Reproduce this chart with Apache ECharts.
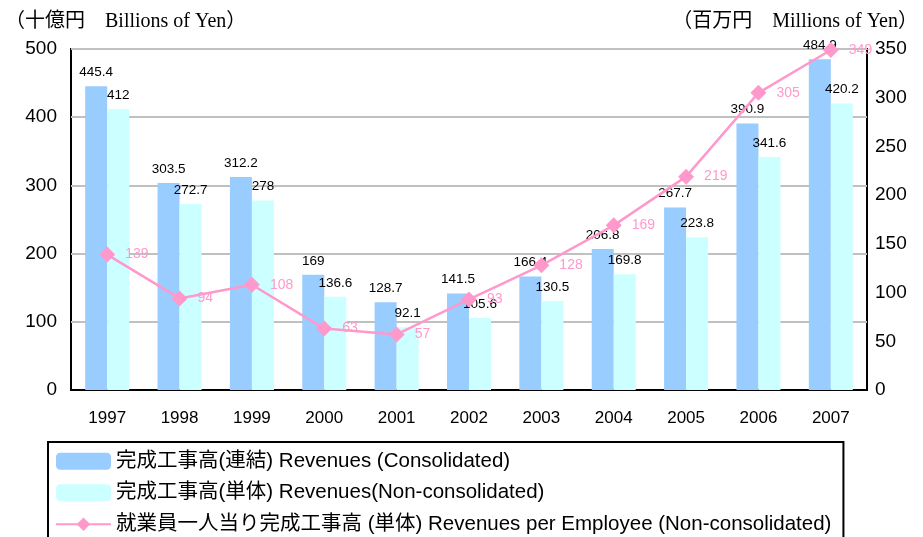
<!DOCTYPE html>
<html>
<head>
<meta charset="utf-8">
<script src="https://cdn.jsdelivr.net/npm/echarts@6/dist/echarts.min.js"></script>
<style>
  html, body { margin: 0; padding: 0; background: #fff; }
  #chart { width: 923px; height: 537px; }
</style>
</head>
<body>
<div id="chart"></div>
<script>
  // 年度
  const years = ['1997', '1998', '1999', '2000', '2001', '2002', '2003', '2004', '2005', '2006', '2007']
  // 完成工事高(連結) 十億円
  const consolidated = [445.4, 303.5, 312.2, 169, 128.7, 141.5, 166.4, 206.8, 267.7, 390.9, 484.9]
  // 完成工事高(単体) 十億円
  const nonConsolidated = [412, 272.7, 278, 136.6, 92.1, 105.6, 130.5, 169.8, 223.8, 341.6, 420.2]
  // 就業員一人当り完成工事高 百万円
  const perEmployee = [139, 94, 108, 63, 57, 93, 128, 169, 219, 305, 349]

  const names = [
    '完成工事高(連結) Revenues (Consolidated)',
    '完成工事高(単体) Revenues(Non-consolidated)',
    '就業員一人当り完成工事高 (単体) Revenues per Employee (Non-consolidated)'
  ]

  const sans = 'Arial, "Liberation Sans", "Noto Sans CJK JP", sans-serif'
  const serif = '"Times New Roman", "Liberation Serif", "Noto Sans CJK JP", serif'

  const chart = echarts.init(document.getElementById('chart'))
  const option = {
    animation: false,
    backgroundColor: '#fff',
    title: [
      {
        text: '（十億円　Billions of Yen）',
        left: 0,
        top: 7,
        textStyle: { fontFamily: serif, fontSize: 20, fontWeight: 'normal', color: '#000' }
      },
      {
        text: '（百万円　Millions of Yen）',
        right: 0,
        top: 7,
        textStyle: { fontFamily: serif, fontSize: 20, fontWeight: 'normal', color: '#000' }
      }
    ],
    grid: {
      left: 71,
      right: 56,
      top: 49,
      bottom: 147,
      show: true,
      borderColor: '#000',
      borderWidth: 2,
      containLabel: false
    },
    legend: {
      orient: 'vertical',
      left: 48,
      top: 442,
      height: 200,
      data: names,
      itemWidth: 55,
      itemHeight: 17,
      itemGap: 11,
      borderColor: '#000',
      borderWidth: 2,
      padding: [9, 12, 20, 7],
      textStyle: { fontFamily: sans, fontSize: 20.5, color: '#000' }
    },
    xAxis: {
      type: 'category',
      data: years,
      axisLine: { lineStyle: { color: '#000', width: 2 } },
      axisTick: { inside: true, length: 6, lineStyle: { color: '#000', width: 2 } },
      axisLabel: { fontFamily: sans, fontSize: 17, color: '#000', margin: 20 }
    },
    yAxis: [
      {
        type: 'value',
        min: 0,
        max: 500,
        interval: 100,
        axisLine: { show: false },
        axisTick: { show: false },
        axisLabel: { fontFamily: sans, fontSize: 19, color: '#000', margin: 14 },
        splitLine: { lineStyle: { color: '#c0c0c0', width: 2 } }
      },
      {
        type: 'value',
        min: 0,
        max: 350,
        interval: 50,
        axisLine: { show: false },
        axisTick: { show: false },
        axisLabel: { fontFamily: sans, fontSize: 19, color: '#000', margin: 8 },
        splitLine: { show: false }
      }
    ],
    series: [
      {
        name: names[0],
        type: 'bar',
        data: consolidated,
        barWidth: 22,
        barGap: '0%',
        itemStyle: { color: '#99ccff' },
        label: { show: true, position: 'top', distance: 7, fontFamily: sans, fontSize: 13.5, color: '#000' }
      },
      {
        name: names[1],
        type: 'bar',
        data: nonConsolidated,
        barWidth: 22,
        barGap: '0%',
        itemStyle: { color: '#ccffff' },
        label: { show: true, position: 'top', distance: 7, fontFamily: sans, fontSize: 13.5, color: '#000' }
      },
      {
        name: names[2],
        type: 'line',
        yAxisIndex: 1,
        data: perEmployee,
        symbol: 'diamond',
        symbolSize: 16,
        lineStyle: { color: '#ff99cc', width: 2.5 },
        itemStyle: { color: '#ff99cc' },
        label: { show: true, position: 'right', distance: 10, fontFamily: sans, fontSize: 14, color: '#ff99cc' },
        z: 5
      }
    ]
  }
  chart.setOption(option)
</script>
</body>
</html>
